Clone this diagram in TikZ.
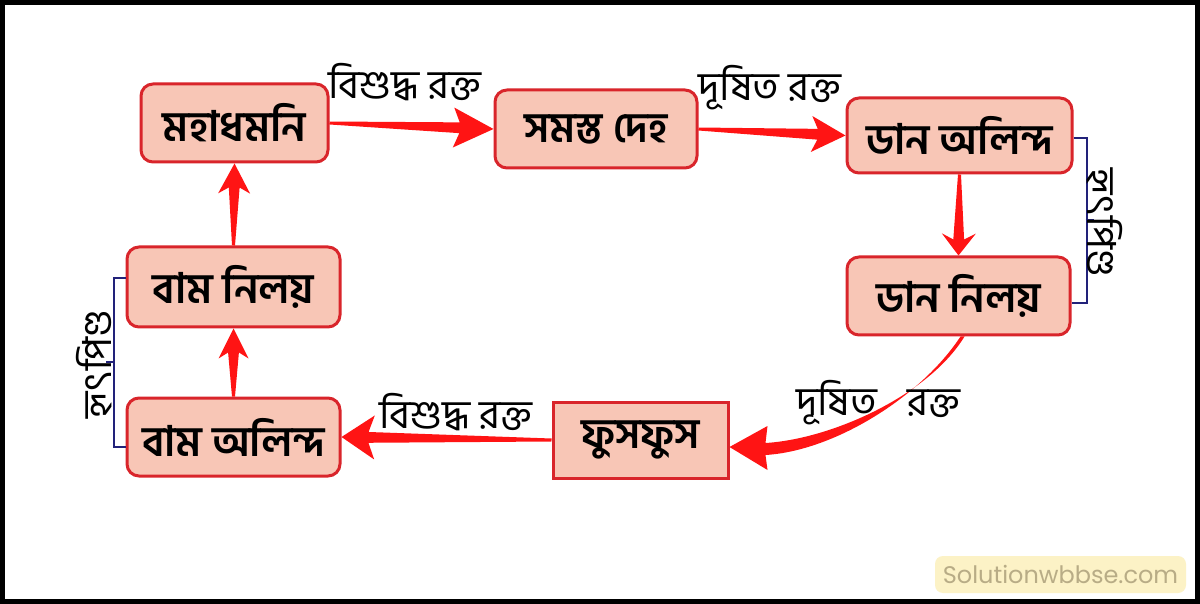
\documentclass[tikz,border=0pt]{standalone}
\usepackage{fontspec}
\usetikzlibrary{calc}
\newfontfamily\bn[Script=Bengali]{Hind Siliguri}
\newfontfamily\wm{Poppins}
\definecolor{boxfill}{HTML}{F8C6B6}
\definecolor{boxline}{HTML}{D9252B}
\definecolor{arrred}{HTML}{FF1414}
\definecolor{navy}{HTML}{22227A}
\definecolor{wmfill}{HTML}{FCF2C6}
\definecolor{wmtext}{HTML}{B8AC86}
% tapered arrow: start, end, head length, head half width
\newcommand\tarrow[4]{%
  \coordinate (hb) at ($(#2)!#3!(#1)$);
  \coordinate (hn) at ($(#2)!#3-3pt!(#1)$);
  \fill[arrred] ($(#1)!0.75pt!90:(#2)$) -- ($(hn)!2.7pt!-90:(#1)$) -- ($(hb)!#4!-90:(#1)$) -- (#2)
    -- ($(hb)!#4!90:(#1)$) -- ($(hn)!2.7pt!90:(#1)$) -- ($(#1)!0.75pt!-90:(#2)$) -- cycle;
}
\tikzset{
  organ/.style={draw=boxline, fill=boxfill, line width=1.5pt, rounded corners=6pt,
    inner sep=0pt, font=\bn\bfseries\fontsize{21}{25}\selectfont},
  flowlabel/.style={inner sep=0pt, font=\bn\fontsize{20}{24}\selectfont},
  brk/.style={draw=navy, line width=1pt},
  heartlabel/.style={inner sep=0pt, font=\bn\fontsize{20}{24}\selectfont},
}
\begin{document}
\begin{tikzpicture}[x=0.5pt,y=-0.5pt]
\useasboundingbox (0,0) rectangle (1200,604);
\fill[white] (0,0) rectangle (1200,604);
\draw[line width=2.5pt] (2.5,2.5) rectangle (1197.5,601.5);

% boxes
\node[organ, minimum width=93.5pt, minimum height=39pt] (mah) at (234.5,123) {মহাধমনি};
\node[organ, minimum width=101pt, minimum height=39pt] (sam) at (596,129) {সমস্ত দেহ};
\node[organ, minimum width=112.5pt, minimum height=37.5pt] (dal) at (959.5,135.5) {ডান অলিন্দ};
\node[organ, minimum width=111.5pt, minimum height=39pt] (dni) at (958.5,296) {ডান নিলয়};
\node[organ, minimum width=106.5pt, minimum height=40pt] (bni) at (233.5,287) {বাম নিলয়};
\node[organ, minimum width=106.5pt, minimum height=39pt] (bal) at (233.5,437) {বাম অলিন্দ};
\node[organ, rounded corners=0pt, minimum width=87.5pt, minimum height=38pt] (fus) at (640.5,440) {ফুসফুস};

% straight arrows
\tarrow{mah.east}{sam.west}{20pt}{10pt}
\tarrow{sam.east}{dal.west}{17pt}{9pt}
\tarrow{dal.south}{dni.north}{11pt}{8.5pt}
\tarrow{bal.north}{bni.south}{15pt}{7.5pt}
\tarrow{bni.north}{mah.south}{15pt}{8pt}
\tarrow{fus.west}{bal.east}{16.5pt}{11pt}

% curved arrow from right ventricle to lungs
\coordinate (cs) at ($(dni.south)+(4,0)$);
\coordinate (ct) at ($(fus.east)+(0,7)$);
\fill[arrred] ($(cs)+(2,0)$) .. controls ($(cs)+(-34,59)$) and ($(ct)+(102,-8)$) .. ($(ct)+(36,-4)$)
  -- ($(ct)+(38,-21)$) -- (ct) -- ($(ct)+(38,23)$) -- ($(ct)+(36,8)$)
  .. controls ($(ct)+(104,4)$) and ($(cs)+(-42,61)$) .. ($(cs)+(-2,0)$) -- cycle;

% labels
\node[flowlabel] (l1) at (405,82) {বিশুদ্ধ রক্ত};
\node[flowlabel] (l2) at (770,88) {দূষিত রক্ত};
\node[flowlabel] (l3) at (878,403) {দূষিত\hspace{15pt}রক্ত};
\node[flowlabel] (l4) at (456,412) {বিশুদ্ধ রক্ত};

% brackets
\draw[brk] ($(bni.west)+(0,-9)$) -- ++(-12,0) |- ($(bal.west)+(0,10)$);
\draw[brk] ($(bni.west)!0.5!(bal.west)+(-12,0)$) -- ++(-8,0);
\node[heartlabel, rotate=90] (hl) at (94,364) {হৃৎপিণ্ড};
\draw[brk] ($(dal.east)+(0,2.5)$) -- ++(13,0) |- ($(dni.east)+(0,7)$);
\draw[brk] ($(dal.east)!0.5!(dni.east)+(13,4)$) -- ++(8,0);
\node[heartlabel, rotate=-90] (hr) at (1105,223) {হৃৎপিণ্ড};

% watermark
\node[fill=wmfill, rounded corners=4pt, minimum width=125.5pt, minimum height=18.5pt, inner sep=0pt,
  text=wmtext, font=\wm\fontsize{12}{14}\selectfont] (wmk) at (1060.5,574.5) {Solutionwbbse.com};
\end{tikzpicture}
\end{document}
